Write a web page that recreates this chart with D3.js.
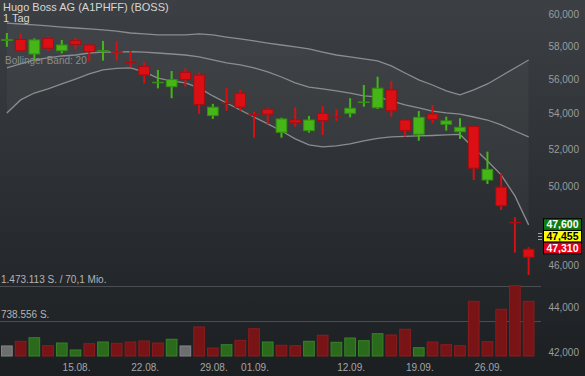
<!DOCTYPE html>
<html>
<head>
<meta charset="utf-8">
<script src="https://cdn.jsdelivr.net/npm/d3@7/dist/d3.min.js"></script>
<style>
  html, body { margin: 0; padding: 0; background: #2a2d31; overflow: hidden; }
  text { font-family: "Liberation Sans", Arial, sans-serif; }
</style>
</head>
<body>
<div id="visualization"></div>
<script>
const dates = ['08.08.', '09.08.', '10.08.', '11.08.', '12.08.', '15.08.', '16.08.', '17.08.', '18.08.', '19.08.',
               '22.08.', '23.08.', '24.08.', '25.08.', '26.08.', '29.08.', '30.08.', '31.08.', '01.09.', '02.09.',
               '05.09.', '06.09.', '07.09.', '08.09.', '09.09.', '12.09.', '13.09.', '14.09.', '15.09.', '16.09.',
               '19.09.', '20.09.', '21.09.', '22.09.', '23.09.', '26.09.', '27.09.', '28.09.', '29.09.'];

const open  = [58350, 58410, 57520, 58480, 57720, 58330, 58070, 57700, 57660, 57030, 56770, 55800, 55570, 56420, 56260, 53900, 54620, 55190, 53950, 54260,
               52960, 53650, 53050, 54030, 53820, 54030, 54650, 54350, 55380, 53650, 52850, 53990, 53410, 52990, 53280, 50360, 49980, 48160, 46810];
const high  = [58810, 58780, 58480, 58580, 58380, 58530, 58130, 58320, 58320, 57700, 57020, 56560, 56500, 56660, 56400, 54570, 55510, 55380, 54120, 54350,
               53780, 54380, 53880, 54450, 54260, 54900, 55670, 56160, 55910, 53710, 54160, 54510, 53840, 53750, 53330, 51890, 50720, 48420, 46910];
const low   = [57960, 57700, 57120, 57720, 57560, 57770, 57060, 57120, 57130, 56710, 55770, 55470, 54900, 55580, 54010, 53710, 54180, 54180, 52660, 53410,
               52660, 53270, 52940, 52810, 53600, 53800, 54410, 54280, 53840, 52720, 52490, 53470, 53050, 52590, 50360, 50150, 48790, 46640, 45560];
const close = [58400, 57720, 58380, 57870, 58070, 58110, 57660, 57730, 57640, 57010, 56260, 55830, 55990, 55990, 54530, 54380, 54600, 54380, 53930, 53980,
               53710, 53500, 53650, 53620, 53800, 54320, 54680, 55480, 54180, 53050, 53800, 53690, 53600, 53240, 50990, 50930, 49010, 48130, 46420];

const volume = [210000, 308000, 383000, 216000, 272000, 126000, 258000, 293000, 266000, 293000, 314000, 272000, 350000, 210000, 608000, 168000, 237000, 329000, 572000, 293000,
                224000, 216000, 308000, 434000, 287000, 377000, 321000, 467000, 440000, 560000, 174000, 293000, 237000, 216000, 1146000, 300000, 979000, 1473113, 1146000];

// Bollinger band (20)
const bbUpper  = [59430, 59370, 59310, 59250, 59180, 59120, 59060, 59000, 58930, 58810, 58750, 58690, 58690, 58690, 58750, 58690, 58560, 58440, 58320, 58190,
                  58070, 57950, 57830, 57640, 57460, 57340, 57220, 57100, 56800, 56380, 55970, 55670, 55320, 55090, 55380, 55730, 56200, 56680, 57160];
const bbMiddle = [56680, 56920, 57160, 57280, 57400, 57460, 57580, 57640, 57640, 57670, 57640, 57580, 57520, 57460, 57340, 57160, 56980, 56860, 56680, 56440,
                  56140, 55790, 55550, 55440, 55320, 55200, 55030, 54970, 54740, 54510, 54340, 54160, 54050, 53990, 53820, 53650, 53370, 53030, 52700];
const bbLower  = [54050, 54800, 55200, 55440, 55730, 56020, 56320, 56560, 56650, 56680, 56440, 56080, 55910, 55790, 55500, 55030, 54620, 54220, 53820, 53430,
                  53030, 52590, 52260, 52150, 52200, 52310, 52480, 52620, 52700, 52730, 52760, 52780, 52810, 52840, 52090, 51380, 50630, 49520, 48030];

// 48,000 sits under the quote boxes, so it is not labelled
const priceTicks = [60000, 58000, 56000, 54000, 52000, 50000, 46000, 44000, 42000];
const dateTicks = ['15.08.', '22.08.', '29.08.', '01.09.', '12.09.', '19.09.', '26.09.'];
const volMax = 1473113;
const volMid = 738556;
const volLabels = ['1.473.113 S. / 70,1 Mio.', '738.556 S.'];
const quoteValues = [47600, 47455, 47310];
const quoteLabels = ['47,600', '47,455', '47,310'];

document.addEventListener('DOMContentLoaded', () => {
    const width = 585;
    const height = 376;

    const svg = d3.select('#visualization')
        .append('svg')
        .attr('width', width)
        .attr('height', height)
        .style('display', 'block');

    // Background gradient
    const defs = svg.append('defs');
    const grad = defs.append('linearGradient')
        .attr('id', 'bg')
        .attr('x1', 0).attr('y1', 0).attr('x2', 0).attr('y2', 1);
    grad.append('stop').attr('offset', '0%').attr('stop-color', '#3c4044');
    grad.append('stop').attr('offset', '100%').attr('stop-color', '#1c1f22');
    svg.append('rect')
        .attr('width', width)
        .attr('height', height)
        .attr('fill', 'url(#bg)');

    const idx = d3.range(dates.length);

    const x = d3.scaleBand()
        .domain(idx)
        .range([0, 535.5])
        .paddingInner(0.15)
        .paddingOuter(0.075);
    const cx = i => x(i) + x.bandwidth() / 2;

    const y = d3.scaleLog()
        .domain([60000, 42000])
        .range([14, 352]);

    const yVol = d3.scaleLinear()
        .domain([0, volMax])
        .range([356, 285.7]);

    // Bollinger band fill + lines
    const bandArea = d3.area()
        .x(i => cx(i))
        .y0(i => y(bbLower[i]))
        .y1(i => y(bbUpper[i]));
    svg.append('path')
        .datum(idx)
        .attr('d', bandArea)
        .attr('fill', 'rgba(255,255,255,0.035)');

    [bbUpper, bbMiddle, bbLower].forEach(series => {
        svg.append('path')
            .datum(idx)
            .attr('d', d3.line().x(i => cx(i)).y(i => y(series[i])))
            .attr('fill', 'none')
            .attr('stroke', '#8a8d90')
            .attr('stroke-width', 1.3);
    });

    // Titles
    svg.append('text').attr('x', 3).attr('y', 10.5)
        .attr('fill', '#d6d6d6').attr('font-size', 11)
        .text('Hugo Boss AG (A1PHFF) (BOSS)');
    svg.append('text').attr('x', 3).attr('y', 22)
        .attr('fill', '#d6d6d6').attr('font-size', 11)
        .text('1 Tag');
    svg.append('text').attr('x', 5).attr('y', 64)
        .attr('fill', '#8a8c8e').attr('font-size', 10)
        .text('Bollinger Band: 20');

    // Volume panel lines + labels
    [volMax, volMid].forEach((v, k) => {
        svg.append('line')
            .attr('x1', 0).attr('x2', 541)
            .attr('y1', Math.round(yVol(v)) + 0.5).attr('y2', Math.round(yVol(v)) + 0.5)
            .attr('stroke', '#4a4d51');
        svg.append('text')
            .attr('x', 1).attr('y', yVol(v) - 3)
            .attr('fill', '#b4b4b4').attr('font-size', 10)
            .text(volLabels[k]);
    });

    // Volume bars, colour from change of close
    const volColor = i => {
        if (i === 0 || close[i] === close[i - 1]) return ['#6d6e70', '#858688'];
        return close[i] > close[i - 1] ? ['#2b6a1b', '#37842a'] : ['#781416', '#8c1c1e'];
    };
    svg.selectAll('rect.vol')
        .data(idx)
        .enter()
        .append('rect')
        .attr('class', 'vol')
        .attr('x', i => x(i) + 0.5)
        .attr('y', i => yVol(volume[i]))
        .attr('width', x.bandwidth() - 1)
        .attr('height', i => yVol(0) - yVol(volume[i]))
        .attr('fill', i => volColor(i)[0])
        .attr('stroke', i => volColor(i)[1])
        .attr('stroke-width', 1);

    // Candles
    const up = i => close[i] >= open[i];
    const candle = svg.selectAll('g.candle')
        .data(idx)
        .enter()
        .append('g')
        .attr('class', 'candle');

    candle.append('line')
        .attr('x1', i => cx(i)).attr('x2', i => cx(i))
        .attr('y1', i => y(high[i])).attr('y2', i => y(low[i]))
        .attr('stroke', i => up(i) ? '#45b517' : '#d41013')
        .attr('stroke-width', 2);

    candle.append('rect')
        .attr('x', i => x(i) + 0.5)
        .attr('width', x.bandwidth() - 1)
        .attr('y', i => y(Math.max(open[i], close[i])))
        .attr('height', i => Math.max(0.5, Math.abs(y(open[i]) - y(close[i]))))
        .attr('fill', i => up(i) ? '#45b517' : '#dc1014')
        .attr('stroke', i => up(i) ? '#33900f' : '#a80d10')
        .attr('stroke-width', 1);

    // Price axis
    svg.selectAll('text.ptick')
        .data(priceTicks)
        .enter()
        .append('text')
        .attr('class', 'ptick')
        .attr('x', 579)
        .attr('y', d => y(d) + 3.5)
        .attr('text-anchor', 'end')
        .attr('fill', '#9a9c9e')
        .attr('font-size', 10)
        .text(d => d3.format(',')(d));

    // Date axis
    svg.selectAll('text.dtick')
        .data(dateTicks)
        .enter()
        .append('text')
        .attr('class', 'dtick')
        .attr('x', d => cx(dates.indexOf(d)) + 1)
        .attr('y', 371)
        .attr('text-anchor', 'middle')
        .attr('fill', '#a4a6a8')
        .attr('font-size', 10)
        .text(d => d);

    // Quote boxes
    const boxColors = ['#0f7a10', '#ffff00', '#e0001b'];
    const boxText = ['#ffffff', '#000000', '#ffffff'];
    const yMid = y(quoteValues[1]);
    const boxH = 11.7;
    quoteValues.forEach((v, k) => {
        const top = yMid - boxH / 2 + (k - 1) * boxH;
        svg.append('rect')
            .attr('x', 543.5).attr('y', top)
            .attr('width', 38).attr('height', boxH)
            .attr('fill', boxColors[k])
            .attr('stroke', '#000').attr('stroke-width', 1);
        svg.append('text')
            .attr('x', 562.5).attr('y', top + boxH / 2 + 3.6)
            .attr('text-anchor', 'middle')
            .attr('fill', boxText[k])
            .attr('font-size', 10.5)
            .attr('font-weight', 'bold')
            .text(quoteLabels[k]);
    });

    // small handle icon next to boxes
    [-3, 0, 3].forEach(dy => {
        svg.append('line')
            .attr('x1', 538).attr('x2', 542)
            .attr('y1', Math.round(yMid + dy) + 0.5).attr('y2', Math.round(yMid + dy) + 0.5)
            .attr('stroke', '#a0a2a4').attr('stroke-width', 1);
    });
});
</script>
</body>
</html>
